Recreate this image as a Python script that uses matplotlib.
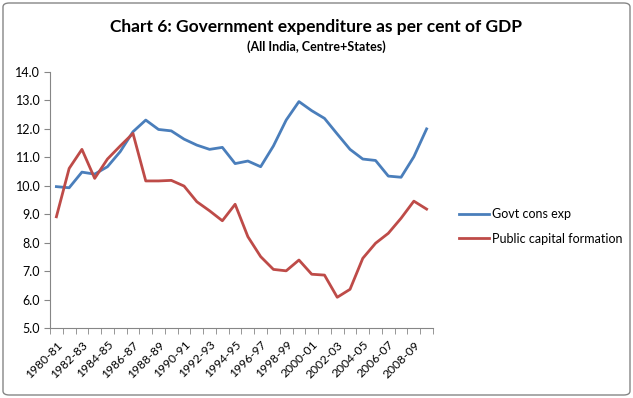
import matplotlib
matplotlib.use("Agg")
import matplotlib.pyplot as plt
from matplotlib.patches import FancyBboxPatch

years = [f"{y}-{str(y+1)[-2:]}" for y in range(1980, 2010)]
govt_cons = [9.97, 9.93, 10.48, 10.41, 10.67, 11.20, 11.90, 12.31, 11.98, 11.93,
             11.64, 11.43, 11.28, 11.35, 10.78, 10.87, 10.67, 11.40, 12.31, 12.96,
             12.64, 12.37, 11.82, 11.28, 10.94, 10.89, 10.34, 10.30, 11.02, 12.00]
public_cap = [8.91, 10.61, 11.28, 10.26, 10.94, 11.40, 11.84, 10.17, 10.17, 10.19,
              9.99, 9.44, 9.12, 8.77, 9.35, 8.21, 7.51, 7.06, 7.01, 7.39,
              6.89, 6.86, 6.08, 6.36, 7.45, 7.98, 8.33, 8.86, 9.46, 9.18]
yticks = [5.0, 6.0, 7.0, 8.0, 9.0, 10.0, 11.0, 12.0, 13.0, 14.0]

plt.rcParams['font.family'] = ['Lato', 'DejaVu Sans']

W, H = 633, 398
fig = plt.figure(figsize=(W/100, H/100), dpi=100)
ax = fig.add_axes([50/W, 1-328/H, (433-50)/W, (328-72)/H])

x = list(range(len(years)))
ax.plot(x, govt_cons, color='#4A7EBB', lw=2.0, label='Govt cons exp')
ax.plot(x, public_cap, color='#BE4B48', lw=2.0, label='Public capital formation')

ax.set_xlim(-0.5, len(years)-0.5)
ax.set_ylim(5, 14)
ax.set_yticks(yticks)
ax.set_yticklabels([f"{v:.1f}" for v in yticks], fontsize=9)
ax.set_xticks(x[::2])
ax.set_xticklabels(years[::2], rotation=45, ha='right', rotation_mode='anchor', fontsize=8.7)
ax.set_xticks([i - 0.5 for i in range(len(years)+1)], minor=True)
ax.tick_params(axis='x', which='major', length=0, pad=8)
ax.tick_params(axis='x', which='minor', length=4, color='#868686')
ax.tick_params(axis='y', length=4, color='#868686', pad=3)
for s in ['top', 'right']:
    ax.spines[s].set_visible(False)
for s in ['left', 'bottom']:
    ax.spines[s].set_color('#868686')
    ax.spines[s].set_linewidth(0.8)

fig.text(0.5, 1-27/H, 'Chart 6: Government expenditure as per cent of GDP',
         ha='center', va='center', fontsize=12.5, fontweight='bold')
fig.text(0.5, 1-47/H, '(All India, Centre+States)',
         ha='center', va='center', fontsize=9, fontweight='bold')

fig.legend(loc='upper left', bbox_to_anchor=(448/W, 1-197/H), frameon=False,
           fontsize=9, handlelength=2.4, handletextpad=0.2, labelspacing=1.0)

border = FancyBboxPatch((3/W, 3/H), (W-6)/W, (H-6)/H, boxstyle='round,pad=0,rounding_size=0.01',
                        transform=fig.transFigure, fill=False, edgecolor='#868686', lw=1.0)
fig.patches.append(border)

fig.savefig('out.png', dpi=100)
